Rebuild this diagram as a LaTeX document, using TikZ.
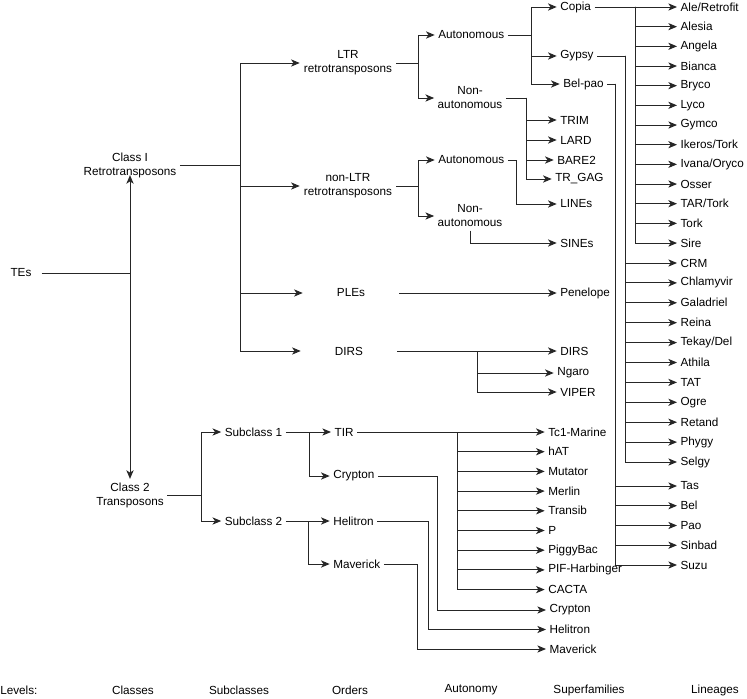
\documentclass[tikz,border=0pt]{standalone}
\usepackage{fontspec}
\setmainfont{Liberation Sans}
\usetikzlibrary{arrows.meta}

\begin{document}
\begin{tikzpicture}[
    x=0.75pt, y=-0.75pt,
    every node/.style={font=\fontsize{8.8}{10.5}\selectfont},
    lbl/.style={inner sep=2.5pt, align=center},
    ord/.style={lbl, minimum width=72pt},
    leaf/.style={lbl, anchor=west},
    conn/.style={line width=0.7pt, draw=black!85},
    arr/.style={conn, -{Stealth[length=6.5pt, width=5.4pt, inset=1.8pt]}}
]
\useasboundingbox (0,0) rectangle (747,699);

% Root and classes
\node[lbl, inner xsep=7.5pt] (tes) at (21,273) {TEs};
\node[lbl] (cI) at (130,165) {Class I\\Retrotransposons};
\node[lbl] (cII) at (130,495) {Class 2\\Transposons};
\coordinate (tesj) at (130,273);
\draw[conn] (tes) -- (tesj);
\draw[arr] (tesj) -- ([yshift=4.5pt]cI.south);
\draw[arr] (tesj) -- (cII.north);

% Class I orders
\node[ord] (ltr) at (348,63) {LTR\\retrotransposons};
\node[ord] (nltr) at (348,186) {non-LTR\\retrotransposons};
\node[ord] (ple) at (351,293) {PLEs};
\node[ord] (dirs) at (349,351) {DIRS};
\coordinate (busI) at (240,165);
\draw[conn] (cI.east) -- (busI);
\foreach \o in {ltr,nltr,ple,dirs}
    \draw[arr] (busI) |- (\o.west);

% Autonomy
\node[leaf] (laut) at (434.7,35) {Autonomous};
\node[lbl] (lnon) at (470,98) {Non-\\autonomous};
\node[leaf] (naut) at (434.7,160) {Autonomous};
\node[lbl] (nnon) at (470,216) {Non-\\autonomous};
\coordinate (ltrb) at (418,63);
\coordinate (nltrb) at (418,186);
\draw[conn] (ltr.east) -- (ltrb);
\draw[arr] (ltrb) |- (laut.west);
\draw[arr] (ltrb) |- (lnon.west);
\draw[conn] (nltr.east) -- (nltrb);
\draw[arr] (nltrb) |- (naut.west);
\draw[arr] (nltrb) |- (nnon.west);

% Retrotransposon superfamilies
\node[leaf] (copia) at (556.7,7) {Copia};
\node[leaf] (gypsy) at (556.7,56) {Gypsy};
\node[leaf] (belpao) at (559.7,84) {Bel-pao};
\node[leaf] (trim) at (556.7,120) {TRIM};
\node[leaf] (lard) at (556.7,140) {LARD};
\node[leaf] (bare) at (553.7,160) {BARE2};
\node[leaf] (trgag) at (551.7,179) {TR\_GAG};
\node[leaf] (lines) at (556.7,204) {LINEs};
\node[leaf] (sines) at (556.7,243) {SINEs};
\node[leaf] (pen) at (556.7,293) {Penelope};
\node[leaf] (dirsf) at (556.7,351) {DIRS};
\node[leaf] (ngaro) at (553.7,373) {Ngaro};
\node[leaf] (viper) at (556.7,392) {VIPER};

\coordinate (lautb) at (531,35);
\draw[conn] (laut.east) -- (lautb);
\foreach \s in {copia,gypsy,belpao}
    \draw[arr] (lautb) |- (\s.west);
\coordinate (lnonb) at (526,98);
\draw[conn] (lnon.east) -- (lnonb);
\foreach \s in {trim,lard,bare,trgag}
    \draw[arr] (lnonb) |- (\s.west);
\coordinate (nautb) at (516,160);
\draw[arr] (naut.east) -- (nautb) |- (lines.west);
\draw[arr] (nnon.south) |- (sines.west);
\draw[arr] (ple.east) -- (pen.west);
\coordinate (dirsb) at (477,351);
\draw[arr] (dirs.east) -- (dirsf.west);
\draw[arr] (dirsb) |- (ngaro.west);
\draw[arr] (dirsb) |- (viper.west);

% Lineages
\coordinate (copb) at (635,7);
\coordinate (gypb) at (625,56);
\coordinate (belb) at (615,84);
\draw[conn] (copia.east) -- (copb);
\draw[conn] (gypsy.east) -- (gypb);
\draw[conn] (belpao.east) -- (belb);
\foreach \t [count=\k from 0] in {{Ale/Retrofit},Alesia,Angela,Bianca,Bryco,Lyco,Gymco,{Ikeros/Tork},{Ivana/Oryco},Osser,{TAR/Tork},Tork,Sire}{
    \node[leaf] (cop\k) at (677,{7+19.67*\k}) {\t};
    \draw[arr] (copb) |- (cop\k.west);
}
\foreach \t [count=\k from 0] in {CRM,Chlamyvir,Galadriel,Reina,{Tekay/Del},Athila,TAT,Ogre,Retand,Phygy,Selgy}{
    \node[leaf] (gyp\k) at (677,{263+19.9*\k}) {\t};
    \draw[arr] (gypb) |- (gyp\k.west);
}
\foreach \t [count=\k from 0] in {Tas,Bel,Pao,Sinbad,Suzu}{
    \node[leaf] (bel\k) at (677,{486+19.75*\k}) {\t};
    \draw[arr] (belb) |- (bel\k.west);
}

% Class 2 subclasses and orders
\node[lbl] (sub1) at (253.5,432) {Subclass 1};
\node[lbl] (sub2) at (253.5,521) {Subclass 2};
\coordinate (busII) at (201,495);
\draw[conn] (cII.east) -- (busII);
\draw[arr] (busII) |- (sub1.west);
\draw[arr] (busII) |- (sub2.west);

\node[leaf] (tir) at (331,432) {TIR};
\node[leaf] (cryo) at (329.7,476) {Crypton};
\node[leaf] (helo) at (329.7,521) {Helitron};
\node[leaf] (mavo) at (329.7,564) {Maverick};
\coordinate (sub1b) at (309,432);
\coordinate (sub2b) at (308,521);
\draw[arr] (sub1.east) -- (tir.west);
\draw[arr] (sub1b) |- (cryo.west);
\draw[arr] (sub2.east) -- (helo.west);
\draw[arr] (sub2b) |- (mavo.west);

% DNA transposon superfamilies
\coordinate (tirb) at (457,432);
\draw[conn] (tir.east) -- (tirb);
\foreach \t [count=\k from 0] in {Tc1-Marine,hAT,Mutator,Merlin,Transib,P,PiggyBac,PIF-Harbinger,CACTA}{
    \node[leaf] (dna\k) at (544.7,{432+19.7*\k}) {\t};
    \draw[arr] (tirb) |- (dna\k.west);
}
\node[leaf] (cryf) at (546,610) {Crypton};
\node[leaf] (helf) at (546,629.5) {Helitron};
\node[leaf] (mavf) at (546,649) {Maverick};
\coordinate (cryb) at (437,476);
\coordinate (helb) at (428,521);
\coordinate (mavb) at (417,564);
\draw[arr] (cryo.east) -- (cryb) |- (cryf.west);
\draw[arr] (helo.east) -- (helb) |- (helf.west);
\draw[arr] (mavo.east) -- (mavb) |- (mavf.west);

% Levels
\node[lbl, anchor=west, inner xsep=0pt] (lvl) at (0,690) {Levels:};
\node[lbl] (lvcl) at (133,690) {Classes};
\node[lbl] (lvsub) at (239,690) {Subclasses};
\node[lbl] (lvord) at (350,690) {Orders};
\node[lbl] (lvaut) at (471,690) {Autonomy};
\node[lbl] (lvsf) at (589,690) {Superfamilies};
\node[lbl] (lvlin) at (715,690) {Lineages};

\end{tikzpicture}
\end{document}
